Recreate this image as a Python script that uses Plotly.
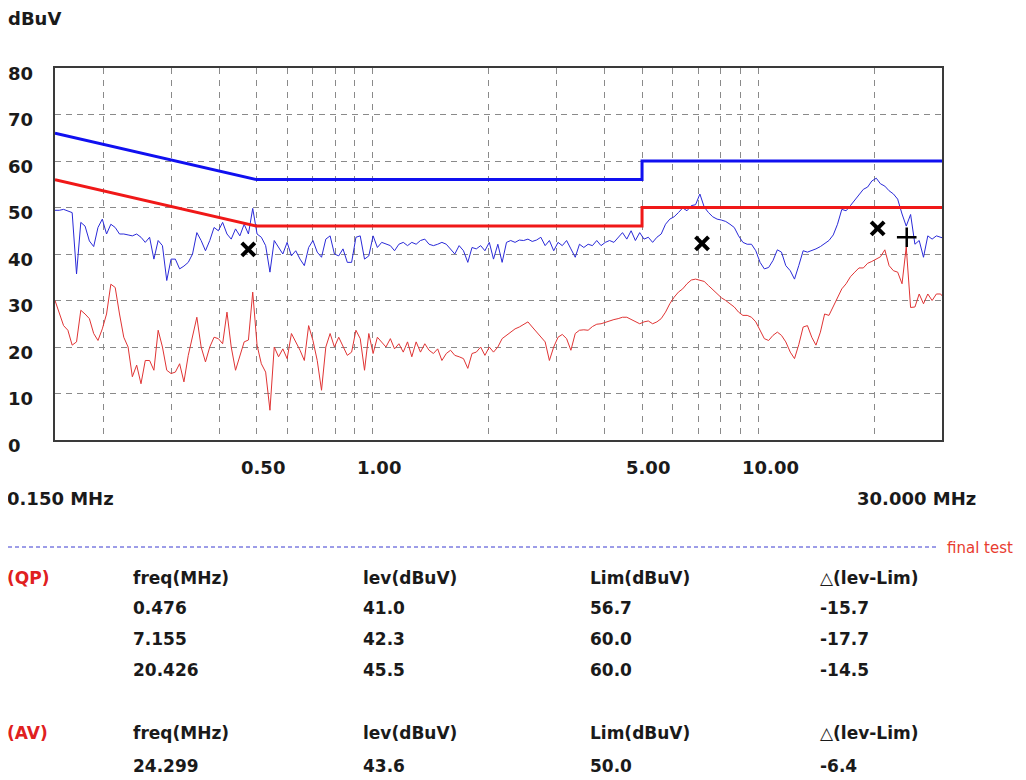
import math
import plotly.graph_objects as go

# ---------------- data ----------------
freq_mhz = [
    0.1500, 0.1539, 0.1579, 0.1620, 0.1662, 0.1706, 0.1750, 0.1795, 0.1842, 0.1890,
    0.1939, 0.1990, 0.2041, 0.2094, 0.2149, 0.2205, 0.2262, 0.2321, 0.2381, 0.2443,
    0.2507, 0.2572, 0.2639, 0.2708, 0.2778, 0.2850, 0.2924, 0.3000, 0.3078, 0.3158,
    0.3240, 0.3325, 0.3411, 0.3500, 0.3591, 0.3685, 0.3781, 0.3879, 0.3980, 0.4083,
    0.4190, 0.4298, 0.4410, 0.4525, 0.4643, 0.4763, 0.4887, 0.5015, 0.5145, 0.5279,
    0.5416, 0.5557, 0.5702, 0.5850, 0.6002, 0.6158, 0.6318, 0.6483, 0.6651, 0.6824,
    0.7002, 0.7184, 0.7371, 0.7562, 0.7759, 0.7961, 0.8168, 0.8380, 0.8598, 0.8822,
    0.9052, 0.9287, 0.9529, 0.9777, 1.003, 1.029, 1.056, 1.083, 1.112, 1.140,
    1.170, 1.201, 1.232, 1.264, 1.297, 1.331, 1.366, 1.401, 1.438, 1.475,
    1.513, 1.553, 1.593, 1.634, 1.677, 1.721, 1.766, 1.811, 1.858, 1.907,
    1.956, 2.008, 2.059, 2.113, 2.168, 2.225, 2.282, 2.342, 2.402, 2.465,
    2.529, 2.595, 2.662, 2.732, 2.803, 2.875, 2.950, 3.027, 3.105, 3.186,
    3.269, 3.355, 3.441, 3.531, 3.623, 3.718, 3.815, 3.914, 4.015, 4.119,
    4.227, 4.336, 4.449, 4.565, 4.684, 4.805, 4.931, 5.060, 5.191, 5.326,
    5.464, 5.606, 5.753, 5.902, 6.055, 6.213, 6.374, 6.541, 6.710, 6.885,
    7.064, 7.248, 7.437, 7.629, 7.828, 8.032, 8.241, 8.455, 8.675, 8.901,
    9.133, 9.370, 9.614, 9.864, 10.12, 10.38, 10.65, 10.93, 11.22, 11.50,
    11.80, 12.12, 12.43, 12.75, 13.09, 13.43, 13.78, 14.13, 14.51, 14.88,
    15.27, 15.67, 16.07, 16.49, 16.92, 17.36, 17.82, 18.27, 18.75, 19.24,
    19.73, 20.26, 20.77, 21.32, 21.87, 22.45, 23.02, 23.63, 24.23, 24.87,
    25.52, 26.18, 26.86, 27.56, 28.28, 29.01, 29.76, 30.00,
]

qp_scan = [
    49.4, 49.4, 49.6, 49.3, 48.9, 35.7, 46.8, 46.0, 42.8, 41.6,
    45.7, 47.5, 44.3, 46.4, 45.7, 44.3, 44.3, 44.1, 43.9, 44.3,
    43.6, 42.5, 43.6, 38.9, 42.9, 41.8, 34.3, 38.9, 38.9, 36.8,
    37.4, 38.2, 40.0, 44.6, 42.9, 40.7, 42.9, 45.7, 45.0, 46.8,
    44.3, 43.2, 45.4, 43.9, 46.4, 44.3, 49.8, 44.3, 43.6, 41.8,
    36.1, 42.9, 41.4, 40.0, 42.5, 39.6, 40.7, 38.9, 37.5, 41.4,
    42.9, 40.4, 39.3, 43.2, 43.9, 40.0, 39.6, 41.1, 38.2, 38.2,
    43.6, 43.9, 38.9, 39.6, 43.9, 41.4, 42.5, 42.1, 41.8, 40.7,
    42.1, 42.5, 41.8, 42.5, 42.1, 42.9, 43.2, 42.1, 41.8, 42.1,
    42.5, 42.1, 41.1, 40.0, 41.8, 40.7, 38.2, 41.4, 41.1, 41.8,
    40.7, 42.5, 38.9, 42.1, 38.2, 42.5, 42.9, 42.5, 43.0, 42.9,
    43.2, 42.7, 43.0, 43.6, 41.8, 42.9, 40.7, 42.5, 41.8, 42.9,
    41.1, 39.3, 42.1, 41.4, 42.1, 41.8, 42.9, 41.8, 42.5, 42.9,
    42.5, 43.6, 44.6, 43.2, 45.0, 42.9, 44.6, 43.2, 43.6, 42.5,
    43.6, 44.3, 46.4, 47.5, 48.0, 48.9, 49.9, 49.3, 50.4, 50.6,
    52.9, 50.1, 48.9, 48.0, 47.5, 47.3, 47.0, 46.4, 45.7, 43.9,
    42.5, 42.1, 42.1, 40.7, 38.2, 36.8, 37.1, 38.6, 40.9, 40.4,
    37.5, 36.4, 34.6, 37.5, 40.7, 40.4, 40.7, 41.1, 41.6, 42.3,
    42.9, 44.1, 46.4, 49.6, 49.3, 50.4, 51.6, 52.9, 53.9, 54.4,
    55.7, 56.3, 55.1, 54.6, 53.6, 52.9, 51.8, 48.6, 46.0, 48.5,
    42.1, 42.9, 39.3, 43.9, 43.2, 43.9, 43.6, 43.5,
]

av_scan = [
    30.0, 27.1, 24.6, 23.6, 20.4, 21.1, 27.9, 27.1, 26.1, 22.9,
    21.4, 23.9, 27.1, 33.5, 32.8, 27.1, 22.1, 20.0, 13.6, 16.1,
    12.1, 17.1, 17.1, 15.0, 23.6, 20.0, 15.0, 14.3, 14.6, 16.4,
    12.5, 18.2, 22.1, 26.4, 20.0, 16.8, 20.0, 22.1, 21.8, 20.7,
    27.5, 20.0, 15.0, 18.2, 21.1, 21.5, 31.8, 20.4, 16.4, 14.6,
    6.4, 20.0, 17.9, 19.6, 17.5, 22.9, 21.1, 19.3, 17.1, 24.6,
    21.4, 17.1, 10.7, 20.0, 22.9, 20.0, 22.1, 20.0, 18.2, 18.9,
    23.6, 21.8, 15.0, 22.9, 18.6, 22.1, 21.1, 20.0, 21.8, 19.6,
    20.7, 18.9, 21.1, 17.9, 21.1, 18.9, 20.7, 19.3, 18.6, 19.6,
    17.1, 18.6, 19.3, 18.2, 17.9, 17.5, 15.4, 18.6, 18.9, 20.0,
    18.2, 20.0, 18.9, 20.0, 21.8, 22.5, 23.2, 23.9, 24.3, 24.9,
    25.4, 24.3, 23.2, 22.1, 21.1, 17.1, 20.0, 22.1, 22.7, 21.8,
    19.3, 22.9, 23.6, 23.7, 23.6, 24.4, 24.9, 25.0, 25.3, 25.7,
    25.9, 26.1, 26.4, 26.4, 25.9, 25.4, 25.0, 25.4, 25.6, 25.0,
    25.4, 26.1, 27.5, 29.3, 30.7, 31.8, 32.5, 33.6, 34.4, 34.6,
    34.4, 34.1, 33.2, 32.3, 31.3, 30.6, 30.0, 29.3, 28.6, 27.5,
    26.8, 26.8, 26.4, 25.4, 23.6, 21.8, 21.4, 22.5, 23.2, 22.5,
    21.1, 18.9, 17.5, 20.5, 24.3, 24.6, 22.1, 20.4, 23.2, 27.1,
    26.8, 28.6, 30.6, 32.5, 33.6, 35.1, 36.1, 37.0, 37.0, 38.0,
    38.4, 38.9, 39.4, 40.9, 37.5, 36.4, 36.1, 33.6, 41.5, 28.5,
    28.6, 31.4, 29.3, 31.4, 30.0, 31.4, 31.4, 31.0,
]

limit_freq = [0.15, 0.5, 5.0, 5.0, 30.0]
qp_limit = [66.0, 56.0, 56.0, 60.0, 60.0]
av_limit = [56.0, 46.0, 46.0, 50.0, 50.0]

qp_freq = [0.476, 7.155, 20.426]
qp_level = [41.0, 42.3, 45.5]
qp_lim = [56.7, 60.0, 60.0]
qp_delta = [-15.7, -17.7, -14.5]

av_freq = [24.299]
av_level = [43.6]
av_lim = [50.0]
av_delta = [-6.4]

y_ticks = [0, 10, 20, 30, 40, 50, 60, 70, 80]
x_grid = [0.2, 0.3, 0.4, 0.5, 0.6, 0.7, 0.8, 0.9, 1.0,
          2, 3, 4, 5, 6, 7, 8, 9, 10, 20]
x_label_vals = [0.5, 1.0, 5.0, 10.0]
x_label_text = ["0.50", "1.00", "5.00", "10.00"]

# ---------------- figure ----------------
# the page body has an 8px margin, so the figure is 8px smaller and
# shifted accordingly; page pixel positions below refer to the window.
OFF = 8
W, H = 1026 - OFF, 780 - OFF
L, T = 55 - OFF, 68 - OFF
PW, PH = 887, 372
R, B = W - L - PW, H - T - PH


def px(xp):
    return (xp - OFF - L) / PW


def py(yp):
    return (H - B - (yp - OFF)) / PH


FONT = "DejaVu Sans"
fig = go.Figure()

fig.add_trace(go.Scatter(x=freq_mhz, y=av_scan, mode="lines",
                         line=dict(color="#e03434", width=1), showlegend=False))
fig.add_trace(go.Scatter(x=freq_mhz, y=qp_scan, mode="lines",
                         line=dict(color="#2a2ad8", width=1), showlegend=False))
fig.add_trace(go.Scatter(x=limit_freq, y=qp_limit, mode="lines",
                         line=dict(color="#1010f0", width=3), showlegend=False))
fig.add_trace(go.Scatter(x=limit_freq, y=av_limit, mode="lines",
                         line=dict(color="#f01818", width=3), showlegend=False))
fig.add_trace(go.Scatter(x=qp_freq, y=qp_level, mode="markers",
                         marker=dict(symbol="x-thin", size=13, color="black",
                                     line=dict(color="black", width=4)),
                         showlegend=False))
fig.add_trace(go.Scatter(x=av_freq, y=av_level, mode="markers",
                         marker=dict(symbol="cross-thin", size=14, color="black",
                                     line=dict(color="black", width=2.5)),
                         showlegend=False))

fig.update_xaxes(type="log", range=[math.log10(0.15), math.log10(30)],
                 tickvals=x_grid, showticklabels=False, ticks="",
                 showgrid=True, gridcolor="#8a8a8a", gridwidth=1, griddash="6px,6px",
                 showline=True, linecolor="#3a3a3a", linewidth=2, mirror=True,
                 zeroline=False, automargin=False)
fig.update_yaxes(range=[0, 80], tickvals=y_ticks, showticklabels=False, ticks="",
                 showgrid=True, gridcolor="#8a8a8a", gridwidth=1, griddash="6px,5px",
                 showline=True, linecolor="#3a3a3a", linewidth=2, mirror=True,
                 zeroline=False, automargin=False)

ann = []
txt = "#1a1a1a"
big = dict(family=FONT, size=18, color=txt)
ann.append(dict(x=px(6), y=py(19), xref="paper", yref="paper", text="<b>dBuV</b>",
                showarrow=False, xanchor="left", yanchor="middle", font=big))
for v in y_ticks:
    ann.append(dict(x=px(6), y=v, xref="paper", yref="y", yshift=-5, text=f"<b>{v}</b>",
                    showarrow=False, xanchor="left", yanchor="middle", font=big))
for v, t in zip(x_label_vals, x_label_text):
    ann.append(dict(x=math.log10(v), y=py(467), xref="x", yref="paper", xshift=-18,
                    text=f"<b>{t}</b>", showarrow=False, xanchor="left",
                    yanchor="middle", font=big))
ann.append(dict(x=px(5), y=py(498), xref="paper", yref="paper", text="<b>0.150 MHz</b>",
                showarrow=False, xanchor="left", yanchor="middle", font=big))
ann.append(dict(x=px(978), y=py(498), xref="paper", yref="paper", text="<b>30.000 MHz</b>",
                showarrow=False, xanchor="right", yanchor="middle", font=big))

# separator line + "final test"
fig.add_shape(type="line", xref="paper", yref="paper", x0=px(OFF), x1=px(936),
              y0=py(547), y1=py(547), line=dict(color="#3a3ad0", width=1, dash="4px,3px"))
ann.append(dict(x=px(1015), y=py(548), xref="paper", yref="paper", text="final test",
                showarrow=False, xanchor="right", yanchor="middle",
                font=dict(family=FONT, size=15, color="#e83c30")))

# table
tf = dict(family=FONT, size=17, color=txt)
red_f = dict(family=FONT, size=17, color="#e02020")
cols = [131, 361, 588, 818]
headers = ["freq(MHz)", "lev(dBuV)", "Lim(dBuV)", "\u25b3(lev-Lim)"]


def add_block(label, y_head, rows_y, f_list, l_list, lim_list, d_list):
    ann.append(dict(x=px(5), y=py(y_head), xref="paper", yref="paper", text=f"<b>{label}</b>",
                    showarrow=False, xanchor="left", yanchor="middle", font=red_f))
    for cx, h in zip(cols, headers):
        ann.append(dict(x=px(cx), y=py(y_head), xref="paper", yref="paper", text=f"<b>{h}</b>",
                        showarrow=False, xanchor="left", yanchor="middle", font=tf))
    for ry, fr, lv, lm, dl in zip(rows_y, f_list, l_list, lim_list, d_list):
        vals = [f"{fr:.3f}", f"{lv:.1f}", f"{lm:.1f}", f"{dl:.1f}"]
        for cx, s in zip(cols, vals):
            ann.append(dict(x=px(cx), y=py(ry), xref="paper", yref="paper", text=f"<b>{s}</b>",
                            showarrow=False, xanchor="left", yanchor="middle", font=tf))


add_block("(QP)", 578, [608, 639, 670], qp_freq, qp_level, qp_lim, qp_delta)
add_block("(AV)", 733, [766], av_freq, av_level, av_lim, av_delta)

fig.update_layout(width=W, height=H, margin=dict(l=L, r=R, t=T, b=B, autoexpand=False),
                  paper_bgcolor="white", plot_bgcolor="white", annotations=ann,
                  showlegend=False)

fig.write_html("out.html")
